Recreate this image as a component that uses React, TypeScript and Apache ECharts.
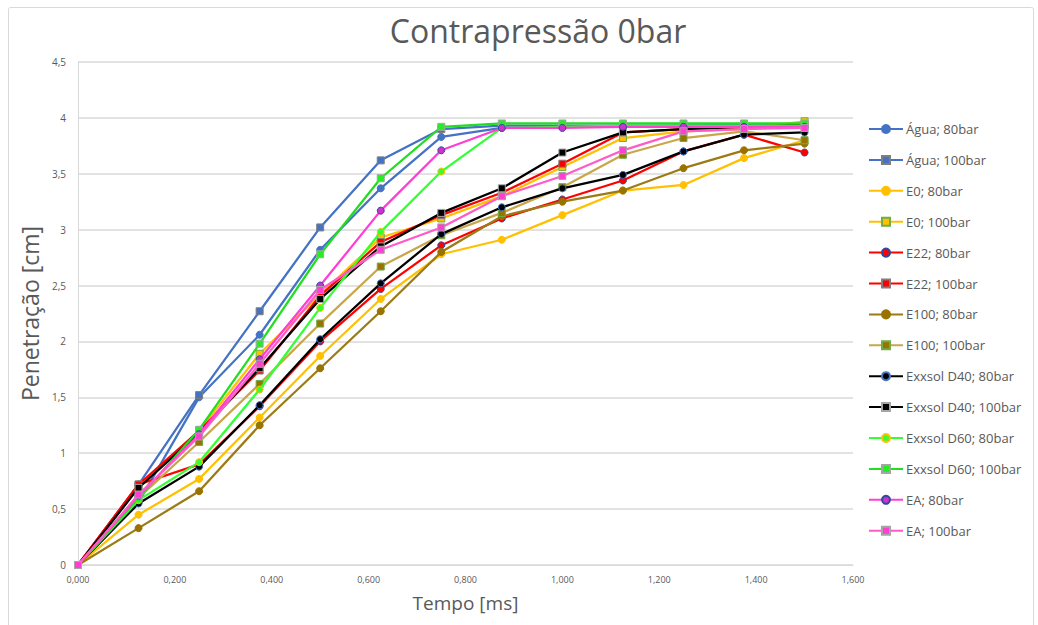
import React, { useEffect, useRef } from "react";
import * as echarts from "echarts";

// Time instants (ms)
const tempo = [0, 0.125, 0.25, 0.375, 0.5, 0.625, 0.75, 0.875, 1.0, 1.125, 1.25, 1.375, 1.5];

// Penetration (cm) for each fluid / injection pressure
const agua80 = [0, 0.56, 1.5, 2.06, 2.82, 3.37, 3.83, 3.91, 3.92, 3.92, 3.93, 3.93, 3.94];
const agua100 = [0, 0.72, 1.52, 2.27, 3.02, 3.62, 3.9, 3.93, 3.93, 3.93, 3.93, 3.94, 3.94];
const e0_80 = [0, 0.45, 0.77, 1.32, 1.87, 2.38, 2.78, 2.91, 3.13, 3.35, 3.4, 3.64, 3.8];
const e0_100 = [0, 0.7, 1.2, 1.89, 2.42, 2.93, 3.1, 3.3, 3.56, 3.82, 3.88, 3.9, 3.97];
const e22_80 = [0, 0.72, 0.9, 1.42, 2.0, 2.47, 2.86, 3.1, 3.27, 3.44, 3.7, 3.85, 3.69];
const e22_100 = [0, 0.72, 1.2, 1.74, 2.41, 2.89, 3.13, 3.33, 3.59, 3.87, 3.9, 3.92, 3.92];
const e100_80 = [0, 0.33, 0.66, 1.25, 1.76, 2.27, 2.8, 3.12, 3.25, 3.35, 3.55, 3.71, 3.77];
const e100_100 = [0, 0.6, 1.1, 1.62, 2.16, 2.67, 2.95, 3.15, 3.38, 3.67, 3.82, 3.88, 3.8];
const d40_80 = [0, 0.55, 0.88, 1.43, 2.02, 2.52, 2.96, 3.2, 3.37, 3.49, 3.7, 3.85, 3.87];
const d40_100 = [0, 0.69, 1.18, 1.76, 2.38, 2.85, 3.15, 3.37, 3.69, 3.87, 3.9, 3.92, 3.94];
const d60_80 = [0, 0.58, 0.92, 1.57, 2.3, 2.98, 3.52, 3.91, 3.92, 3.93, 3.93, 3.93, 3.93];
const d60_100 = [0, 0.6, 1.21, 1.98, 2.78, 3.46, 3.92, 3.95, 3.95, 3.95, 3.95, 3.95, 3.95];
const ea80 = [0, 0.62, 1.17, 1.84, 2.5, 3.17, 3.71, 3.91, 3.91, 3.92, 3.92, 3.92, 3.92];
const ea100 = [0, 0.63, 1.15, 1.8, 2.46, 2.82, 3.02, 3.3, 3.48, 3.71, 3.88, 3.9, 3.91];

const seriesNames = [
  "Água; 80bar", "Água; 100bar",
  "E0; 80bar", "E0; 100bar",
  "E22; 80bar", "E22; 100bar",
  "E100; 80bar", "E100; 100bar",
  "Exxsol D40; 80bar", "Exxsol D40; 100bar",
  "Exxsol D60; 80bar", "Exxsol D60; 100bar",
  "EA; 80bar", "EA; 100bar",
];
const seriesData = [
  agua80, agua100, e0_80, e0_100, e22_80, e22_100, e100_80, e100_100,
  d40_80, d40_100, d60_80, d60_100, ea80, ea100,
];
const lineColors = [
  "#4472C4", "#4472C4", "#FFC000", "#FFC000", "#FF0000", "#FF0000", "#9C7A14", "#C9A64A",
  "#000000", "#000000", "#33FF33", "#22DD22", "#FF3FD2", "#FF5AC8",
];
const markerBorders = [
  "#4472C4", "#7F7F7F", "#FFC000", "#70AD47", "#2F4A9C", "#7F7F7F", "#997300", "#70AD47",
  "#4472C4", "#A5A5A5", "#FFC000", "#A5A5A5", "#2F4A9C", "#A5A5A5",
];
const markerFills = [
  "#4472C4", "#4472C4", "#FFC000", "#FFC000", "#FF0000", "#FF0000", "#997300", "#997300",
  "#000000", "#000000", "#33FF33", "#22EE22", "#CC33CC", "#FF3FD2",
];
const markerShapes = ["circle", "rect"];

const xTicks = { min: 0, max: 1.6, step: 0.2 };
const yTicks = { min: 0, max: 4.5, step: 0.5 };

const FONT = "'Open Sans', 'Noto Sans', sans-serif";
const GREY_TEXT = "#595959";

export default function App() {
  const ref = useRef<HTMLDivElement>(null);

  useEffect(() => {
    if (!ref.current) return;
    const chart = echarts.init(ref.current, undefined, { renderer: "svg" });

    const series = seriesNames.map((name, i) => ({
      name,
      type: "line",
      data: tempo.map((t, k) => [t, seriesData[i][k]]),
      symbol: markerShapes[i % 2],
      symbolSize: 7,
      showSymbol: true,
      lineStyle: { color: lineColors[i], width: 2.25 },
      itemStyle: {
        color: markerFills[i],
        borderColor: markerBorders[i],
        borderWidth: 1,
      },
      z: 2 + i,
    }));

    chart.setOption({
      animation: false,
      backgroundColor: "#ffffff",
      title: {
        text: "Contrapressão 0bar",
        left: 533,
        top: 9,
        textAlign: "center",
        textStyle: {
          fontFamily: FONT,
          fontSize: 32,
          fontWeight: "normal",
          color: GREY_TEXT,
        },
      },
      graphic: [
        {
          type: "rect",
          shape: { x: 8.5, y: 7.5, width: 1025, height: 640, r: 2 },
          style: { fill: "none", stroke: "#D9D9D9", lineWidth: 1 },
          silent: true,
          z: -1,
        },
      ],
      legend: {
        orient: "vertical",
        left: 863,
        top: 115,
        itemWidth: 34,
        itemHeight: 10,
        itemGap: 12.9,
        textStyle: {
          fontFamily: FONT,
          fontSize: 13,
          color: GREY_TEXT,
          lineHeight: 18,
          padding: [0, 0, 0, -2],
        },
        data: seriesNames,
      },
      grid: { left: 78, right: 185, top: 62, bottom: 60, containLabel: false },
      xAxis: {
        type: "value",
        min: xTicks.min,
        max: xTicks.max,
        interval: xTicks.step,
        name: "Tempo [ms]",
        nameLocation: "middle",
        nameGap: 28,
        nameTextStyle: { fontFamily: FONT, fontSize: 19, color: GREY_TEXT },
        axisLine: { show: true, lineStyle: { color: "#D9D9D9", width: 1 } },
        axisTick: { show: false },
        splitLine: { show: false },
        axisLabel: {
          fontFamily: FONT,
          fontSize: 9,
          color: GREY_TEXT,
          margin: 10,
          formatter: (v: number) => v.toFixed(3).replace(".", ","),
        },
      },
      yAxis: {
        type: "value",
        min: yTicks.min,
        max: yTicks.max,
        interval: yTicks.step,
        name: "Penetração [cm]",
        nameLocation: "middle",
        nameGap: 32,
        nameRotate: 90,
        nameTextStyle: { fontFamily: FONT, fontSize: 23, color: GREY_TEXT },
        axisLine: { show: true, lineStyle: { color: "#D9D9D9", width: 1 } },
        axisTick: { show: false },
        splitLine: { show: true, lineStyle: { color: "#D9D9D9", width: 1.5 } },
        axisLabel: {
          fontFamily: FONT,
          fontSize: 10,
          color: GREY_TEXT,
          margin: 12,
          formatter: (v: number) => String(v).replace(".", ","),
        },
      },
      series,
    });

    return () => chart.dispose();
  }, []);

  return (
    <div
      ref={ref}
      style={{ position: "fixed", left: 0, top: 0, width: 1038, height: 625, background: "#fff" }}
    />
  );
}
